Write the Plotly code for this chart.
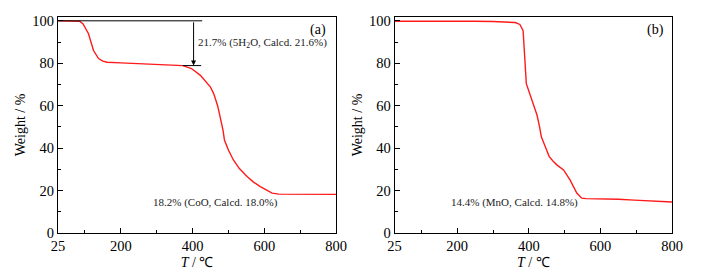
import plotly.graph_objects as go
from plotly.subplots import make_subplots

# Panel (a) TG curve
temp_a = [25, 60, 85, 95, 110, 124, 138, 150, 162, 200, 250, 300, 350, 373, 397, 422, 450, 459, 470, 480, 485, 489, 500, 514, 530, 552, 570, 589, 605, 622, 640, 700, 750, 800]
weight_a = [100, 100, 99.8, 98.5, 93.9, 86.0, 82.2, 81.0, 80.5, 80.2, 79.8, 79.4, 79.2, 78.9, 77.5, 74.3, 68.8, 65.7, 60.0, 53.0, 48.5, 43.8, 39.1, 34.4, 30.5, 26.6, 24.0, 21.9, 20.2, 18.8, 18.3, 18.3, 18.2, 18.2]

# Panel (b) TG curve
temp_b = [25, 100, 150, 200, 250, 300, 340, 362, 375, 384, 393, 409, 423, 430, 435, 446, 457, 468, 479, 497, 515, 534, 548, 560, 600, 650, 695, 750, 800]
weight_b = [99.8, 99.9, 100.0, 99.9, 99.8, 99.7, 99.5, 99.2, 98.3, 95.4, 70.4, 62.6, 55.5, 50.0, 45.3, 40.7, 36.0, 33.8, 32.0, 29.7, 25.0, 18.8, 16.4, 16.2, 16.1, 15.9, 15.5, 15.1, 14.6]

x_tickvals = [25, 200, 400, 600, 800]
x_minor = [100, 300, 500, 700]
y_tickvals = [0, 20, 40, 60, 80, 100]
y_minor = [10, 30, 50, 70, 90]

# annotation data
step_top = 100.0
step_bottom = 78.9
arrow_x = 403
top_line_x = [25, 427]
bottom_line_x = [373, 424]
label_a_water = "21.7% (5H<sub>2</sub>O, Calcd. 21.6%)"
label_a_res = "18.2% (CoO, Calcd. 18.0%)"
label_b_res = "14.4% (MnO, Calcd. 14.8%)"

W, H = 709, 277
ML, MR, MT, MB = 57.7, 37.3, 16.7, 43.7
PW = W - ML - MR

def dx(px):
    return (px - ML) / PW

fig = make_subplots(rows=1, cols=2)
red = "#ff1a1a"
fig.add_trace(go.Scatter(x=temp_a, y=weight_a, mode="lines", line=dict(color=red, width=1.4), showlegend=False), row=1, col=1)
fig.add_trace(go.Scatter(x=temp_b, y=weight_b, mode="lines", line=dict(color=red, width=1.4), showlegend=False), row=1, col=2)

font = "Liberation Serif"
axis_common = dict(showline=True, linecolor="black", linewidth=1, mirror=True, showgrid=False, zeroline=False,
                   ticks="inside", ticklen=5, tickcolor="black", tickwidth=1, automargin=False,
                   tickfont=dict(family=font, size=14.5, color="black"))

xt = dict(text="<i>T</i> / ℃", font=dict(family=font, size=14, color="black"), standoff=3)
yt = dict(text="Weight / %", font=dict(family=font, size=14, color="black"), standoff=3)
minor_x = dict(tickmode="array", tickvals=x_minor, ticks="inside", ticklen=3, tickcolor="black")
minor_y = dict(tickmode="array", tickvals=y_minor, ticks="inside", ticklen=3, tickcolor="black")

fig.update_layout(
    xaxis=dict(domain=[0, dx(335.7)], range=[25, 800], tickmode="array", tickvals=x_tickvals,
               minor=minor_x, title=xt, **axis_common),
    yaxis=dict(domain=[0, 1], range=[0, 101.8], tickmode="array", tickvals=y_tickvals,
               minor=minor_y, title=yt, **axis_common),
    xaxis2=dict(domain=[dx(394.3), 1], range=[25, 800], tickmode="array", tickvals=x_tickvals,
                minor=minor_x, title=xt, **axis_common),
    yaxis2=dict(domain=[0, 1], range=[0, 101.8], tickmode="array", tickvals=y_tickvals,
                minor=minor_y, title=yt, **axis_common),
    width=W, height=H, margin=dict(l=ML, r=MR, t=MT, b=MB, autoexpand=False),
    plot_bgcolor="white", paper_bgcolor="white",
)

line_style = dict(color="black", width=1)
fig.add_shape(type="line", xref="x", yref="y", x0=top_line_x[0], x1=top_line_x[1], y0=step_top, y1=step_top, line=line_style)
fig.add_shape(type="line", xref="x", yref="y", x0=bottom_line_x[0], x1=bottom_line_x[1], y0=step_bottom, y1=step_bottom, line=line_style)
fig.add_annotation(xref="x", yref="y", axref="x", ayref="y", x=arrow_x, y=step_bottom, ax=arrow_x, ay=step_top,
                   showarrow=True, arrowhead=2, arrowsize=1, arrowwidth=1, arrowcolor="black", text="")

txt = dict(family=font, size=11, color="#222")
fig.add_annotation(xref="x", yref="y", x=409, y=89.5, text=label_a_water, showarrow=False, xanchor="left", font=txt)
fig.add_annotation(xref="x", yref="y", x=463, y=14.2, text=label_a_res, showarrow=False, font=txt)
fig.add_annotation(xref="x2", yref="y2", x=359, y=14.2, text=label_b_res, showarrow=False, font=txt)
fig.add_annotation(xref="x", yref="y", x=750, y=95.5, text="(a)", showarrow=False, font=dict(family=font, size=14, color="black"))
fig.add_annotation(xref="x2", yref="y2", x=755, y=95.5, text="(b)", showarrow=False, font=dict(family=font, size=14, color="black"))

fig.write_html("out.html", config={"displayModeBar": False},
               post_script="document.body.style.margin='0';document.body.style.padding='0';")
